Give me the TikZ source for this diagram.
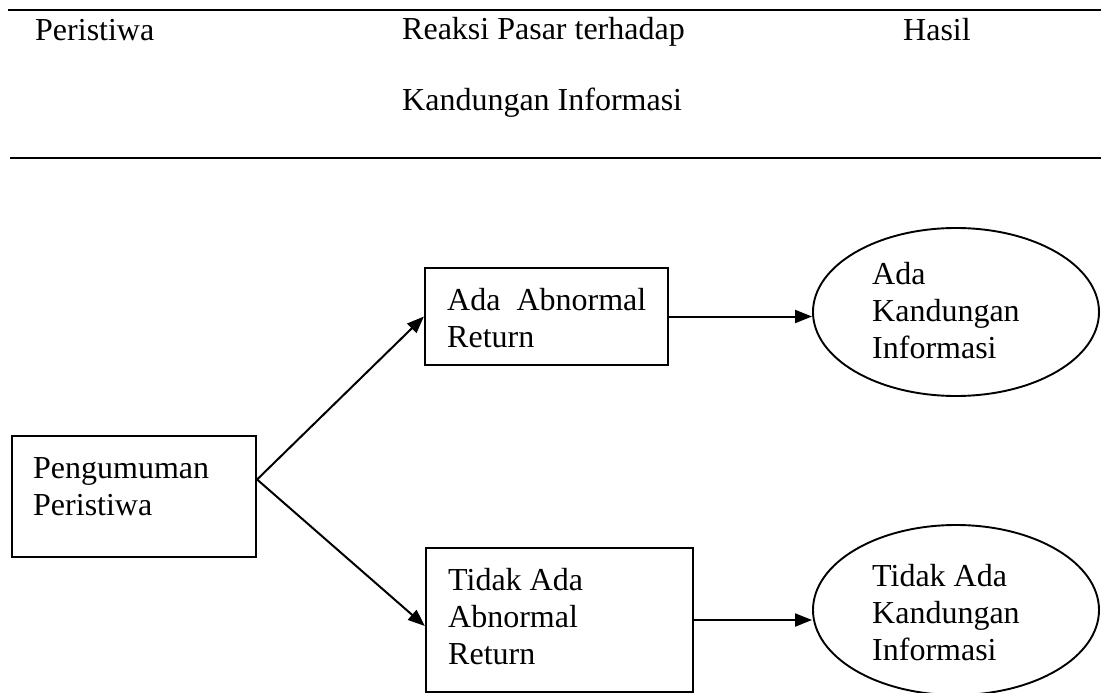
\documentclass[tikz,border=0pt]{standalone}
\usepackage{fontspec}
\setmainfont{Liberation Serif}
\usetikzlibrary{arrows.meta,shapes.geometric}
\begin{document}
\begin{tikzpicture}[x=1pt,y=-1pt,
  txt/.style={inner sep=0pt,anchor=west,align=left,font=\fontsize{32}{37}\selectfont},
  boxnode/.style={draw,line width=2.2pt,rectangle,inner sep=0pt},
  ellnode/.style={draw,line width=1.9pt,ellipse,inner sep=0pt},
  rule/.style={line width=2.2pt},
  arr/.style={line width=2pt,-{Triangle[length=17pt,width=13pt]}}]
\useasboundingbox (0,0) rectangle (1101,693);
% header rules
\coordinate (t1) at (8,10);
\coordinate (t2) at (1101,10);
\coordinate (r1) at (10,158);
\coordinate (r2) at (1101,158);
\draw[rule] (t1) -- (t2);
\draw[rule] (r1) -- (r2);
% header texts
\node[txt] (h1) at (35,30) {Peristiwa};
\node[txt] (h2) at (402,32) {Reaksi Pasar terhadap};
\node[txt] (h3) at (402,103) {Kandungan Informasi};
\node[txt] (h4) at (903,30) {Hasil};
% boxes
\node[boxnode,minimum width=244pt,minimum height=121pt] (b1) at (134,496.5) {};
\node[boxnode,minimum width=243pt,minimum height=97pt] (b2) at (546.5,316.5) {};
\node[boxnode,minimum width=267pt,minimum height=144pt] (b3) at (559.5,620) {};
\node[txt] (b1t) at (33,487) {Pengumuman\\Peristiwa};
\node[txt] (b2t) at (447,318) {Ada\ \ Abnormal\\Return};
\node[txt] (b3t) at (448,617) {Tidak Ada\\Abnormal\\Return};
% ellipses
\node[ellnode,minimum width=286pt,minimum height=168pt] (e1) at (956,312) {};
\node[ellnode,minimum width=286pt,minimum height=170pt] (e2) at (956,610) {};
\node[txt] (e1t) at (872,311) {Ada\\Kandungan\\Informasi};
\node[txt] (e2t) at (872,613) {Tidak Ada\\Kandungan\\Informasi};
% connectors
\coordinate (fork) at ([yshift=17pt]b1.east);
\draw[arr] (fork) -- (b2.west);
\draw[arr] (fork) -- ([yshift=-6pt]b3.west);
\draw[arr] (b2.east) -- (b2.east -| e1.west);
\draw[arr] (b3.east) -- (b3.east -| e2.west);
\end{tikzpicture}
\end{document}
